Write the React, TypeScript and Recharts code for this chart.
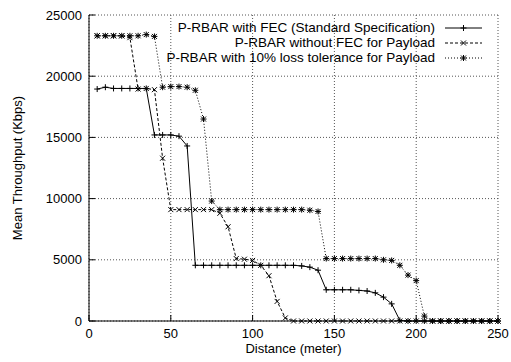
import { LineChart, Line, XAxis, YAxis, CartesianGrid, Legend } from "recharts";

// distance in metres, throughput in Kbps
const distance = [
  5, 10, 15, 20, 25, 30, 35, 40, 45, 50, 55, 60, 65, 70, 75, 80, 85, 90, 95, 100,
  105, 110, 115, 120, 125, 130, 135, 140, 145, 150, 155, 160, 165, 170, 175, 180, 185, 190, 195, 200,
  205, 210, 215, 220, 225, 230, 235, 240, 245, 250,
];
const withFec = [
  18950, 19100, 19000, 19000, 19000, 19000, 19000, 15200, 15200, 15200, 15100, 14300, 4550, 4550, 4550, 4550, 4550, 4550, 4550, 4550,
  4550, 4550, 4550, 4550, 4550, 4500, 4400, 4150, 2550, 2550, 2550, 2550, 2500, 2450, 2300, 1950, 1400, 50, 0, 0,
  0, 0, 0, 0, 0, 0, 0, 0, 0, 0,
];
const withoutFec = [
  23300, 23300, 23300, 23300, 23150, 18950, 19000, 18900, 13300, 9100, 9100, 9100, 9100, 9100, 9100, 8800, 7700, 5100, 5050, 4950,
  4550, 3700, 1600, 250, 0, 0, 0, 0, 0, 0, 0, 0, 0, 0, 0, 0, 0, 0, 0, 0,
  0, 0, 0, 0, 0, 0, 0, 0, 0, 0,
];
const lossTolerant = [
  23300, 23300, 23300, 23300, 23300, 23300, 23400, 23250, 19100, 19150, 19150, 19100, 18850, 16500, 9800, 9100, 9100, 9100, 9100, 9100,
  9100, 9100, 9100, 9100, 9100, 9100, 9050, 8950, 5100, 5100, 5100, 5100, 5100, 5100, 5100, 5000, 4950, 4550, 3750, 3300,
  400, 0, 0, 0, 0, 0, 0, 0, 0, 0,
];
const xTicks = [0, 50, 100, 150, 200, 250];
const yTicks = [0, 5000, 10000, 15000, 20000, 25000];

const data = distance.map((x, i) => ({ x, fec: withFec[i], nofec: withoutFec[i], loss: lossTolerant[i] }));

type Kind = "plus" | "cross" | "star";
const SERIES: { key: string; name: string; dash?: string; kind: Kind }[] = [
  { key: "fec", name: "P-RBAR with FEC (Standard Specification)", kind: "plus" },
  { key: "nofec", name: "P-RBAR without FEC for Payload", dash: "3 2", kind: "cross" },
  { key: "loss", name: "P-RBAR with 10% loss tolerance for Payload", dash: "1 2", kind: "star" },
];

const FONT = "'Liberation Sans', Arial, sans-serif";
const TICK = { fill: "#000", fontSize: 13, fontFamily: FONT };

function markerPath(kind: Kind, cx: number, cy: number) {
  const plus = `M${cx - 3},${cy}h6M${cx},${cy - 3}v6`;
  const cross = `M${cx - 2.5},${cy - 2.5}l5,5M${cx - 2.5},${cy + 2.5}l5,-5`;
  if (kind === "plus") return plus;
  if (kind === "cross") return cross;
  return plus + cross;
}

function Marker({ cx, cy, kind }: { cx?: number; cy?: number; kind: Kind }) {
  if (cx == null || cy == null) return null;
  return <path d={markerPath(kind, cx, cy)} stroke="#000" strokeWidth={1} fill="none" />;
}

function Key() {
  return (
    <div style={{ fontFamily: FONT, fontSize: 13.5, color: "#000" }}>
      {SERIES.map(s => (
        <div key={s.key} style={{ display: "flex", justifyContent: "flex-end", alignItems: "center", height: 15 }}>
          <span style={{ whiteSpace: "nowrap" }}>{s.name}</span>
          <svg width={37} height={10} style={{ marginLeft: 10 }}>
            <line x1={0} y1={5} x2={37} y2={5} stroke="#000" strokeDasharray={s.dash} />
            <Marker cx={18.5} cy={5} kind={s.kind} />
          </svg>
        </div>
      ))}
    </div>
  );
}

export default function App() {
  return (
    <div style={{ fontFamily: FONT }}>
      <style>{"body{margin:0}"}</style>
      <LineChart width={511} height={362} data={data} margin={{ top: 15, right: 13, bottom: 0, left: 0 }}>
        <CartesianGrid stroke="#555" strokeDasharray="1 2" />
        <XAxis
          dataKey="x" type="number" domain={[0, 250]} ticks={xTicks} interval={0}
          tickSize={-6} tickMargin={14} height={41} stroke="#000" tick={TICK}
          label={{ value: "Distance (meter)", position: "insideBottom", offset: 9, fill: "#000", fontSize: 13, fontFamily: FONT }}
        />
        <XAxis xAxisId="top" orientation="top" dataKey="x" type="number" domain={[0, 250]} ticks={xTicks} interval={0}
          tickSize={-6} tick={false} height={0} stroke="#000" />
        <YAxis
          type="number" domain={[0, 25000]} ticks={yTicks} interval={0}
          tickSize={-6} tickMargin={13} width={89} stroke="#000" tick={TICK}
          label={{ value: "Mean Throughput (Kbps)", angle: -90, position: "insideLeft", offset: 17, fill: "#000", fontSize: 13, fontFamily: FONT, style: { textAnchor: "middle" } }}
        />
        <YAxis yAxisId="right" orientation="right" type="number" domain={[0, 25000]} ticks={yTicks} interval={0}
          tickSize={-6} tick={false} width={0} stroke="#000" />
        <Legend layout="vertical" align="center" verticalAlign="middle" wrapperStyle={{ top: 20, right: 29 }} content={() => <Key />} />
        {SERIES.map(s => (
          <Line
            key={s.key} dataKey={s.key} name={s.name} type="linear" stroke="#000" strokeWidth={1}
            strokeDasharray={s.dash} isAnimationActive={false} activeDot={false}
            dot={(p: any) => <Marker key={`${s.key}-${p.index}`} cx={p.cx} cy={p.cy} kind={s.kind} />}
          />
        ))}
      </LineChart>
    </div>
  );
}
